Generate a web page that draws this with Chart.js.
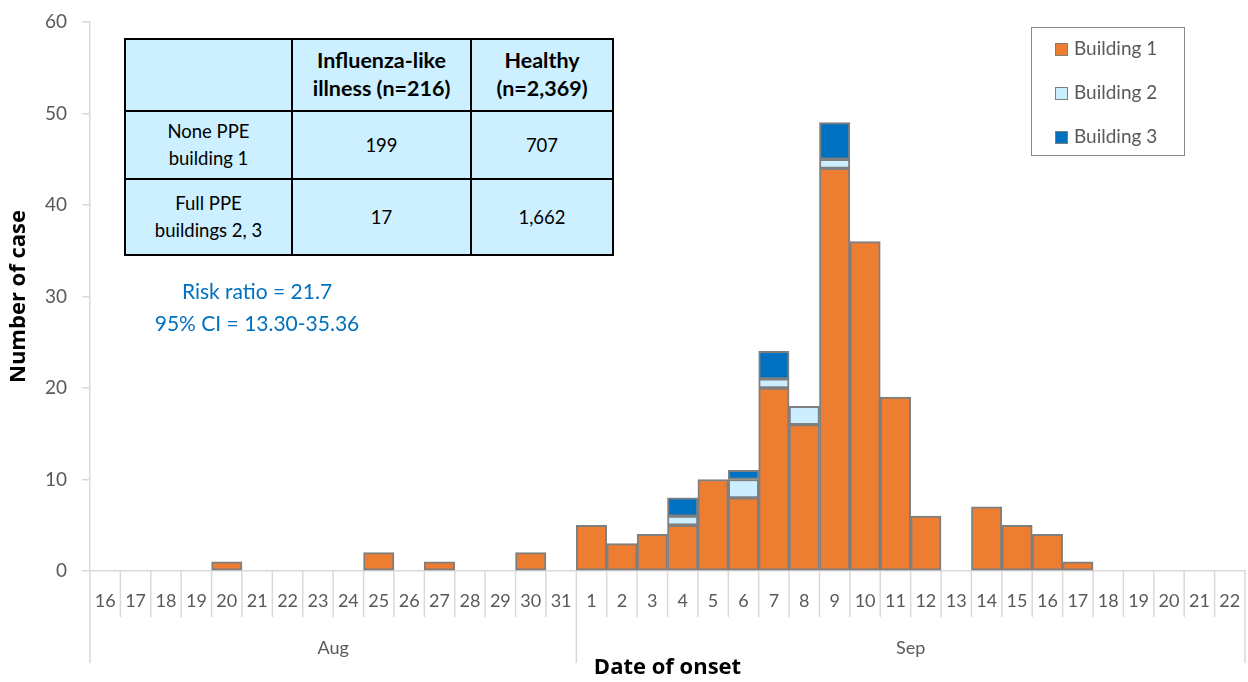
<!DOCTYPE html>
<html>
<head>
<meta charset="utf-8">
<script src="https://cdn.jsdelivr.net/npm/chart.js@4/dist/chart.umd.min.js"></script>
<style>
  html, body { margin:0; padding:0; background:#fff; }
  #wrap { position:relative; width:1248px; height:682px; }
  canvas { position:absolute; left:0; top:0; }
  #tbl { position:absolute; left:124px; top:38px; border-collapse:collapse; font-family:Lato, "Open Sans", sans-serif; font-size:18.5px; color:#000; background:#CCF0FF; }
  #tbl td { border:2px solid #000; text-align:center; padding:0; line-height:27px; }
  #tbl th { border:2px solid #000; text-align:center; padding:0 0 2px 0; line-height:28px; font-weight:bold; font-size:21.5px; }
  #risk { position:absolute; left:137px; top:275px; width:240px; text-align:center; color:#0070C0; font-family:Lato, "Open Sans", sans-serif; font-size:21px; line-height:32px; }
  #legend { position:absolute; left:1031px; top:27px; width:152px; height:127px; border:1.5px solid #888; font-family:Lato, "Open Sans", sans-serif; font-size:19px; color:#595959; }
  .li { position:absolute; left:23px; height:22px; line-height:22px; }
  .sw { display:inline-block; width:11px; height:11px; border:1.5px solid #7f7f7f; margin-right:6px; vertical-align:-1px; }
</style>
</head>
<body>
<div id="wrap">
  <canvas id="c" width="1248" height="682"></canvas>
  <table id="tbl">
    <tr style="height:72px"><th style="width:165px"></th><th style="width:177px">Influenza-like<br>illness (n=216)</th><th style="width:140px">Healthy<br>(n=2,369)</th></tr>
    <tr style="height:68px"><td>None PPE<br>building 1</td><td>199</td><td>707</td></tr>
    <tr style="height:76px"><td>Full PPE<br>buildings 2, 3</td><td>17</td><td>1,662</td></tr>
  </table>
  <div id="risk">Risk ratio = 21.7<br>95% CI = 13.30-35.36</div>
  <div id="legend"></div>
</div>
<script>
// ---- Data ----
const augDays = ["16","17","18","19","20","21","22","23","24","25","26","27","28","29","30","31"];
const sepDays = ["1","2","3","4","5","6","7","8","9","10","11","12","13","14","15","16","17","18","19","20","21","22"];
const months = ["Aug", "Sep"];
const building1 = [null,null,null,null,1,null,null,null,null,2,null,1,null,null,2,null,
                   5,3,4,5,10,8,20,16,44,36,19,6,null,7,5,4,1,null,null,null,null,null];
const building2 = [null,null,null,null,null,null,null,null,null,null,null,null,null,null,null,null,
                   null,null,null,1,null,2,1,2,1,null,null,null,null,null,null,null,null,null,null,null,null,null];
const building3 = [null,null,null,null,null,null,null,null,null,null,null,null,null,null,null,null,
                   null,null,null,2,null,1,3,null,4,null,null,null,null,null,null,null,null,null,null,null,null,null];
const yTicks = [0,10,20,30,40,50,60];
const seriesNames = ["Building 1","Building 2","Building 3"];
const seriesColors = ["#ED7D31","#CCEEFF","#0070C0"];

const labels = augDays.concat(sepDays);
const monthGroups = [{name: months[0], count: augDays.length}, {name: months[1], count: sepDays.length}];

const FONT = 'Lato, "Open Sans", sans-serif';
const TFONT = '"Open Sans", Lato, sans-serif';

const xAxisPlugin = {
  id: 'xAxisPlugin',
  afterDraw(chart) {
    const ctx = chart.ctx;
    const xs = chart.scales.x;
    const y0 = chart.scales.y.getPixelForValue(0);
    const n = labels.length;
    const w = xs.getPixelForValue(1) - xs.getPixelForValue(0);
    ctx.save();
    ctx.strokeStyle = '#d9d9d9';
    ctx.lineWidth = 1.5;
    let monthStarts = [0];
    let acc = 0;
    monthGroups.forEach(g => { acc += g.count; monthStarts.push(acc); });
    for (let i = 0; i <= n; i++) {
      const bx = xs.getPixelForValue(i) - w / 2;
      const isMonth = monthStarts.includes(i);
      ctx.beginPath();
      ctx.moveTo(bx, y0);
      ctx.lineTo(bx, y0 + (isMonth ? 92 : 46));
      ctx.stroke();
    }
    ctx.fillStyle = '#595959';
    ctx.font = '18px ' + FONT;
    ctx.textAlign = 'center';
    ctx.textBaseline = 'middle';
    for (let i = 0; i < n; i++) {
      ctx.fillText(labels[i], xs.getPixelForValue(i), y0 + 30);
    }
    let start = 0;
    monthGroups.forEach(g => {
      const x1 = xs.getPixelForValue(start) - w / 2;
      const x2 = xs.getPixelForValue(start + g.count - 1) + w / 2;
      ctx.fillText(g.name, (x1 + x2) / 2, y0 + 77);
      start += g.count;
    });
    ctx.restore();
  }
};

const ds = [building1, building2, building3].map((d, i) => ({
  label: seriesNames[i],
  data: d,
  backgroundColor: seriesColors[i],
  borderColor: '#7f7f7f',
  borderWidth: 2,
  borderSkipped: false,
  barPercentage: 1.0,
  categoryPercentage: 1.0
}));

new Chart(document.getElementById('c'), {
  type: 'bar',
  data: { labels: labels, datasets: ds },
  options: {
    responsive: false,
    animation: false,
    layout: { padding: { top: 22, right: 3, left: 0, bottom: 0 } },
    plugins: { legend: { display: false }, tooltip: { enabled: false } },
    scales: {
      x: {
        stacked: true,
        grid: { display: false },
        border: { display: true, color: '#d9d9d9', width: 1.5 },
        ticks: { display: false },
        title: { display: true, text: 'Date of onset', color: '#000', font: { family: TFONT, size: 22, weight: 'bold' }, padding: { top: 0, bottom: 1 } },
        afterFit(s) { s.height = 111; }
      },
      y: {
        stacked: true,
        min: 0, max: 60,
        afterBuildTicks(s) { s.ticks = yTicks.map(v => ({ value: v })); },
        grid: { drawOnChartArea: false, tickLength: 8, color: '#d9d9d9', lineWidth: 1.5 },
        border: { display: true, color: '#d9d9d9', width: 1.5 },
        ticks: { color: '#595959', font: { family: FONT, size: 19 }, padding: 15 },
        title: { display: true, text: 'Number of case', color: '#000', font: { family: TFONT, size: 22, weight: 'bold' }, padding: { top: 6, bottom: 0 } },
        afterFit(s) { s.width = 90; s.paddingTop = 0; s.paddingBottom = 0; }
      }
    }
  },
  plugins: [xAxisPlugin]
});

const lg = document.getElementById('legend');
seriesNames.forEach((nm, i) => {
  const d = document.createElement('div');
  d.className = 'li';
  d.style.top = (9 + i * 44) + 'px';
  d.innerHTML = '<span class="sw" style="background:' + seriesColors[i] + '"></span>' + nm;
  lg.appendChild(d);
});
</script>
</body>
</html>
